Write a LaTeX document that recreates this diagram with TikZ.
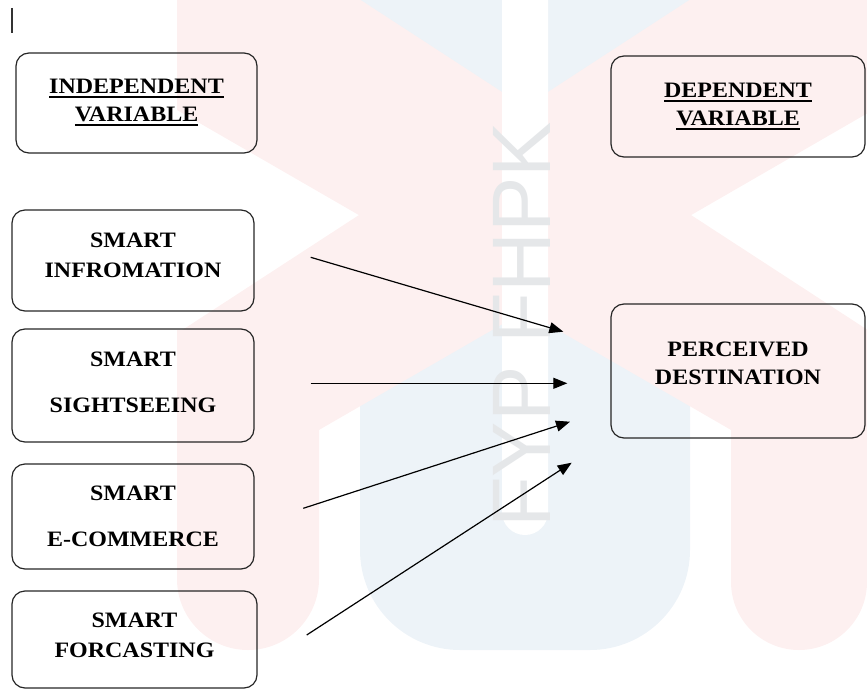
\documentclass[tikz,border=0pt]{standalone}
\usepackage{fontspec}
\setmainfont[FakeStretch=1.09]{Liberation Serif}
\newfontfamily\wmfont{Liberation Sans}
\usetikzlibrary{arrows.meta}
\definecolor{wmpink}{RGB}{253,240,240}
\definecolor{wmblue}{RGB}{237,243,248}
\definecolor{wmgray}{RGB}{229,231,233}
\newcommand{\undl}[1]{\setbox0\hbox{#1}\rlap{\rule[-4.5pt]{\wd0}{2pt}}\box0}
\newcommand{\lift}[1]{\rule[-#1]{0pt}{#1}}

\begin{document}
\begin{tikzpicture}[x=1pt,y=-1pt,
   var/.style={draw=black!85,line width=1.2pt,rounded corners=13pt,inner sep=0pt,
               align=center,font=\bfseries\fontsize{22}{29}\selectfont},
   link/.style={line width=1.2pt,-{Triangle[length=14pt,width=11pt]}}]
   \useasboundingbox (0,0) rectangle (867,690);
   \begin{scope}
      \clip (177,0) rectangle (867,690);
      \fill[wmblue] (360,0) -- (360,550) arc[start angle=180,end angle=90,radius=100]
                    -- (590,650) arc[start angle=90,end angle=0,radius=100] -- (690,0) -- cycle;
      \fill[wmpink] (170,-124) -- (880,338) -- (880,516) -- (170,106) -- cycle;
      \fill[wmpink] (880,-124) -- (170,338) -- (170,516) -- (880,106) -- cycle;
      \fill[wmpink] (177,330) -- (177,579) arc[start angle=180,end angle=0,radius=71] -- (319,330) -- cycle;
      \fill[wmpink] (731,330) -- (731,582) arc[start angle=180,end angle=0,radius=68] -- (867,330) -- cycle;
      \fill[white] (502,0) -- (502,512) arc[start angle=180,end angle=0,radius=23] -- (548,0) -- cycle;
   \end{scope}
   \node[wmgray,rotate=90,inner sep=0pt,font=\wmfont\fontsize{83}{83}\selectfont] (mark) at (521.5,325) {FYP FHPK};
   \draw[line width=1.2pt,black!80] (12,8) -- (12,33);

   \node[var,minimum width=241pt,minimum height=100pt] (indep) at (136.5,103) {\undl{INDEPENDENT}\\[-1pt]\undl{VARIABLE}};
   \node[var,minimum width=254pt,minimum height=101pt] (dep)   at (738,106.5) {\undl{DEPENDENT}\\[-1pt]\undl{VARIABLE}};
   \node[var,minimum width=242pt,minimum height=101pt] (info)  at (133,260.5) {SMART\\[1pt]INFROMATION\lift{10pt}};
   \node[var,minimum width=242pt,minimum height=113pt] (sight) at (133,385.5) {SMART\\[17pt]SIGHTSEEING\lift{6pt}};
   \node[var,minimum width=242pt,minimum height=105pt] (ecom)  at (133,516.5) {SMART\\[17pt]E-COMMERCE};
   \node[var,minimum width=245pt,minimum height=97pt]  (fore)  at (134.5,639.5) {SMART\\[1pt]FORCASTING\lift{8pt}};
   \node[var,minimum width=254pt,minimum height=134pt] (perc)  at (738,371) {PERCEIVED\\[-1pt]DESTINATION\lift{15pt}};

   \coordinate (s1) at (310.7,257.3);
   \coordinate (t1) at (563.3,331.7);
   \coordinate (s2) at (310.7,383.3);
   \coordinate (t2) at (567.3,383.3);
   \coordinate (s3) at (303.3,508.3);
   \coordinate (t3) at (570,421.7);
   \coordinate (s4) at (306.7,635);
   \coordinate (t4) at (571.7,462.7);
   \draw[link] (s1) -- (t1);
   \draw[link] (s2) -- (t2);
   \draw[link] (s3) -- (t3);
   \draw[link] (s4) -- (t4);
\end{tikzpicture}
\end{document}
